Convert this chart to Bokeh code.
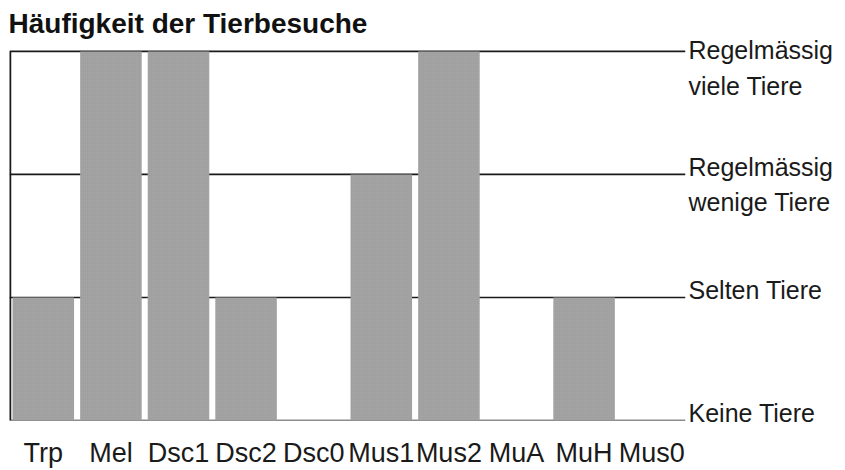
from bokeh.plotting import figure
from bokeh.models import FactorRange, Range1d, Span, ColumnDataSource, LinearAxis, FixedTicker
from bokeh.embed import file_html
from bokeh.resources import INLINE

categories = ["Trp", "Mel", "Dsc1", "Dsc2", "Dsc0", "Mus1", "Mus2", "MuA", "MuH", "Mus0"]
frequency = [1, 3, 3, 1, 0, 2, 3, 0, 1, 0]
level_values = [0, 1, 2, 3]
level_first_lines = ["Keine Tiere", "Selten Tiere", "Regelmässig", "Regelmässig"]
level_second_lines = ["", "", "wenige Tiere", "viele Tiere"]
title_text = "Häufigkeit der Tierbesuche"

FONT = "Liberation Sans"
H = 470
LEVEL_TOP, BOTTOM = 48, 50          # pixel rows of the top level line and of the base line gap
LEFT, FRAME_W = 9, 676
SHIFT_PX = 8                        # axis labels are centred on ticks; lift them to sit on the lines
ppu = (H - LEVEL_TOP - BOTTOM) / 3.0
TOP = LEVEL_TOP - SHIFT_PX
top_level = max(level_values)

p = figure(x_range=FactorRange(*categories, range_padding=0),
           y_range=Range1d(0, top_level + SHIFT_PX / ppu),
           width=845, height=H, output_backend="svg", toolbar_location=None,
           y_axis_location=None, min_border_left=LEFT, min_border_right=845 - LEFT - FRAME_W,
           min_border_top=TOP, min_border_bottom=BOTTOM)

p.title.text = title_text
p.title.text_font = FONT
p.title.text_font_style = "bold"
p.title.text_font_size = "28px"
p.title.text_color = "#111111"
p.title.offset = -1

p.xgrid.visible = False
p.ygrid.visible = False
p.outline_line_color = None
p.background_fill_color = "white"

for lv in level_values:
    p.add_layout(Span(location=lv, dimension="width", line_color="#1a1a1a", line_width=1.7, level="underlay"))
p.segment(x0=[0], y0=[0], x1=[0], y1=[top_level], line_color="#1a1a1a", line_width=3.5)

src = ColumnDataSource(dict(x=categories, top=frequency))
p.vbar(x="x", top="top", bottom=0, width=0.91, source=src, fill_color="#a3a3a3", line_color=None,
       hatch_pattern="dot", hatch_scale=2, hatch_color="#8c8c8c", hatch_alpha=0.35)

ax = p.xaxis[0]
ax.axis_line_color = None
ax.major_tick_line_color = None
ax.minor_tick_line_color = None
ax.major_tick_out = 0
ax.major_tick_in = 0
ax.major_label_standoff = 17
ax.major_label_text_font = FONT
ax.major_label_text_font_size = "27px"
ax.major_label_text_color = "#1a1a1a"

# right-hand level labels on a range lifted by SHIFT_PX
p.extra_y_ranges = {"lbl": Range1d(-SHIFT_PX / ppu, top_level)}
label_texts = [a if not b else "\n" + a + "\n" + b for a, b in zip(level_first_lines, level_second_lines)]
rax = LinearAxis(y_range_name="lbl", ticker=FixedTicker(ticks=level_values),
                 major_label_overrides={lv: t for lv, t in zip(level_values, label_texts)})
rax.axis_line_color = None
rax.major_tick_line_color = None
rax.minor_tick_line_color = None
rax.major_tick_out = 0
rax.major_tick_in = 0
rax.major_label_standoff = 3
rax.major_label_text_font = FONT
rax.major_label_text_font_size = "25px"
rax.major_label_text_color = "#1a1a1a"
rax.major_label_text_align = "left"
rax.major_label_text_line_height = 1.28
p.add_layout(rax, "right")

open("out.html", "w").write(file_html(p, INLINE))
